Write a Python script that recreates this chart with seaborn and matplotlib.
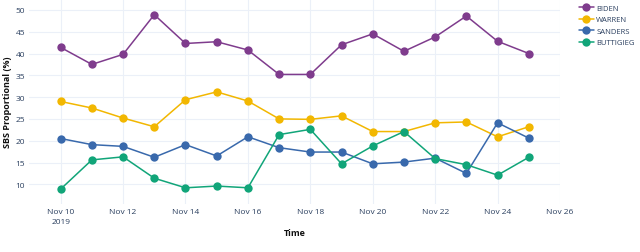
import matplotlib
matplotlib.use("Agg")
import matplotlib.pyplot as plt
import seaborn as sns
import pandas as pd
import numpy as np

dates = pd.date_range("2019-11-10", "2019-11-25", freq="D")
biden = [41.4, 37.5, 39.8, 48.9, 42.3, 42.7, 40.8, 35.2, 35.2, 42.0, 44.5, 40.5, 43.8, 48.6, 42.8, 40.0]
warren = [29.0, 27.5, 25.2, 23.2, 29.4, 31.2, 29.1, 25.0, 24.9, 25.7, 22.1, 22.1, 24.1, 24.3, 20.9, 23.2]
sanders = [20.5, 19.1, 18.7, 16.2, 19.1, 16.5, 20.9, 18.4, 17.4, 17.4, 14.7, 15.1, 16.0, 12.5, 24.1, 20.6]
buttigieg = [8.9, 15.6, 16.3, 11.4, 9.2, 9.6, 9.2, 21.4, 22.6, 14.7, 18.8, 22.1, 15.9, 14.5, 12.1, 16.2]
candidates = ["BIDEN", "WARREN", "SANDERS", "BUTTIGIEG"]
colors = ["#7F3C8D", "#F2B701", "#3969AC", "#11A579"]
tick_dates = pd.date_range("2019-11-10", "2019-11-26", freq="2D")
tick_labels = ["Nov 10\n2019", "Nov 12", "Nov 14", "Nov 16", "Nov 18", "Nov 20", "Nov 22", "Nov 24", "Nov 26"]
y_ticks = [10, 15, 20, 25, 30, 35, 40, 45, 50]

df = pd.DataFrame({
    "Time": np.tile(dates, 4),
    "value": biden + warren + sanders + buttigieg,
    "candidate": np.repeat(candidates, len(dates)),
})

sns.set_style("white")
plt.rcParams["font.family"] = ["Open Sans", "DejaVu Sans"]

fig = plt.figure(figsize=(6.4, 2.53), dpi=100)
ax = fig.add_axes([0.046, 0.19, 0.829, 0.81])

sns.lineplot(data=df, x="Time", y="value", hue="candidate", hue_order=candidates,
             palette=colors, marker="o", markersize=6, markeredgewidth=0,
             linewidth=1.1, ax=ax, legend=True)

grid_c = "#EBF0F8"
ax.set_xticks(tick_dates)
ax.set_xticklabels(tick_labels, linespacing=1.6)
ax.set_yticks(y_ticks)
ax.set_xlim(pd.Timestamp("2019-11-09"), pd.Timestamp("2019-11-26"))
ax.set_ylim(5.5, 52.5)
ax.grid(True, color=grid_c, linewidth=0.8)
ax.set_axisbelow(True)
for s in ax.spines.values():
    s.set_visible(False)
ax.tick_params(axis="both", length=0, labelsize=6, labelcolor="#2a3f5f", pad=3)
ax.set_xlabel("Time", fontsize=6.5, fontweight="bold", color="#111111", labelpad=2)
ax.set_ylabel("SBS Proportional (%)", fontsize=6.5, fontweight="bold", color="#111111", labelpad=3)

leg = ax.legend(loc="upper left", bbox_to_anchor=(1.025, 1.0), frameon=False,
                fontsize=5.5, handlelength=2.0, handletextpad=0.3, labelspacing=0.55,
                borderaxespad=0.3)
for t in leg.get_texts():
    t.set_color("#2a3f5f")

fig.savefig("out.png", dpi=100)
